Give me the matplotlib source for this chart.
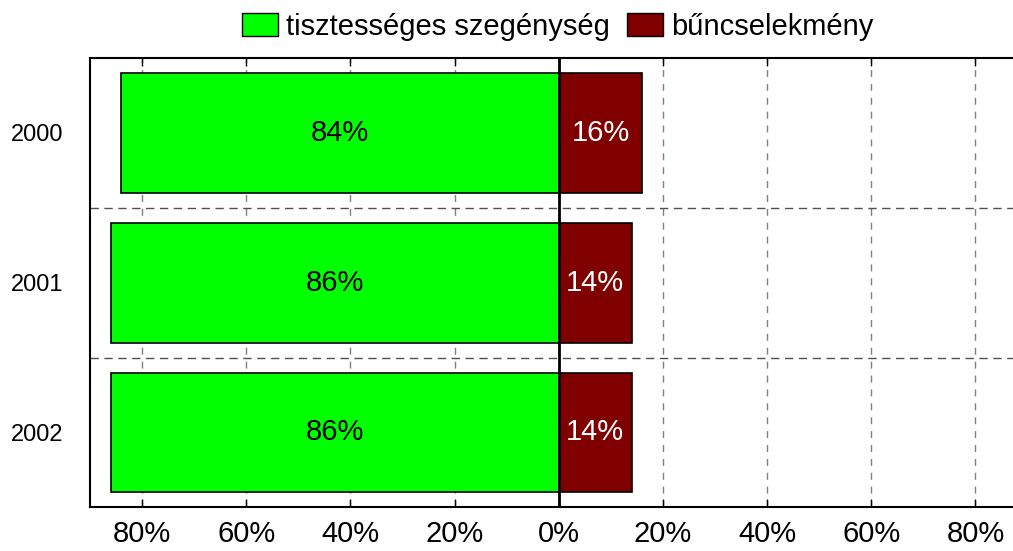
import matplotlib
matplotlib.use("Agg")
import matplotlib.pyplot as plt
from matplotlib.patches import Patch
import numpy as np

plt.rcParams['font.family'] = ['Liberation Sans', 'DejaVu Sans']

years = ["2000", "2001", "2002"]
tisztesseges = [84, 86, 86]
buncselekmeny = [16, 14, 14]
series_names = ["tisztességes szegénység", "bűncselekmény"]
xticks = [-80, -60, -40, -20, 0, 20, 40, 60, 80]
xticklabels = ["80%", "60%", "40%", "20%", "0%", "20%", "40%", "60%", "80%"]

green = "#00FF00"
red = "#800000"

fig = plt.figure(figsize=(10.13, 5.51), dpi=100)
ax = fig.add_axes([90/1013, 1-507.3/551, 1-90/1013 + 0.002, (507.3-58)/551])

y = np.arange(len(years))
ax.barh(y, [-v for v in tisztesseges], height=0.8, color=green, edgecolor="black", linewidth=1.2, zorder=3)
ax.barh(y, buncselekmeny, height=0.8, color=red, edgecolor="black", linewidth=1.2, zorder=3)

for i in range(len(years)):
    ax.text(-tisztesseges[i]/2, y[i], f"{tisztesseges[i]}%", ha="center", va="center", fontsize=21, color="black", zorder=5)
    ax.text(buncselekmeny[i]/2, y[i], f"{buncselekmeny[i]}%", ha="center", va="center", fontsize=21, color="white", zorder=5)

ax.set_xlim(-90, 87.6)
ax.set_ylim(len(years)-0.5, -0.5)
ax.set_xticks(xticks)
ax.set_xticklabels(xticklabels, fontsize=21)
ax.set_yticks(y)
ax.set_yticklabels(years, fontsize=17)
ax.tick_params(axis='y', length=0, pad=19)
ax.tick_params(axis='x', direction='in', length=6, width=1, top=True, bottom=True, pad=9.5, color='black')

ax.xaxis.grid(True, linestyle=(0, (5, 5)), color="#808080", linewidth=1)
ax.set_axisbelow(True)
for b in np.arange(0.5, len(years)-0.5, 1.0):
    ax.axhline(b, color="#505050", linestyle=(0, (6, 4)), linewidth=1, zorder=1)
ax.axvline(0, color="black", linewidth=2, zorder=4)

for s in ["left", "top", "bottom"]:
    ax.spines[s].set_linewidth(1.5)
ax.spines["right"].set_visible(False)

handles = [Patch(facecolor=green, edgecolor="black", linewidth=1),
           Patch(facecolor=red, edgecolor="black", linewidth=1)]
fig.legend(handles, series_names, loc="center", bbox_to_anchor=(557.5/1013, 1-26.7/551),
           ncol=2, frameon=False, fontsize=21, handlelength=1.25, handleheight=0.85,
           handletextpad=0.25, columnspacing=0.6, borderaxespad=0, borderpad=0)

fig.savefig("out.png", dpi=100)
